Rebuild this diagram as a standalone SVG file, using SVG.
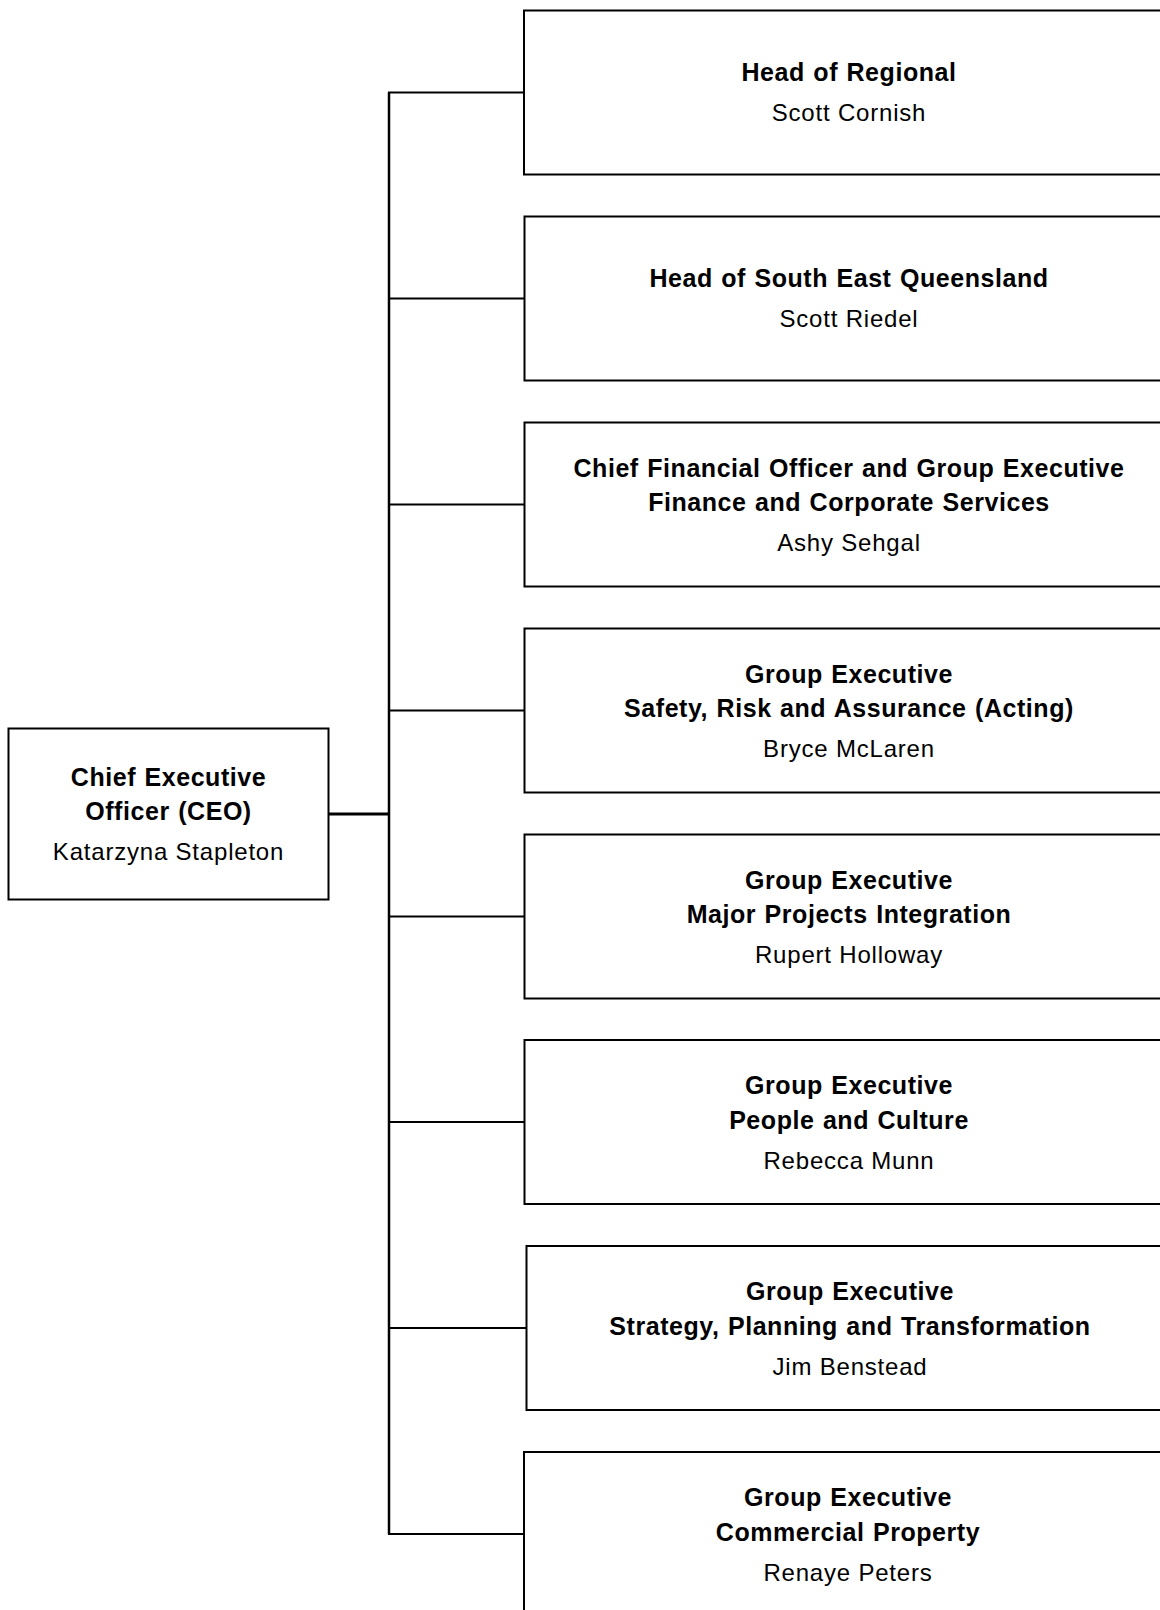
<svg xmlns="http://www.w3.org/2000/svg" width="1160" height="1610" viewBox="0 0 1160 1610">
<style>
  .box { fill: #ffffff; stroke: #000000; stroke-width: 2; }
  .conn { fill: none; stroke: #000000; stroke-width: 2; }
  .t { font-family: "Liberation Sans", Arial, sans-serif; font-weight: bold; font-size: 25px; text-anchor: middle; fill: #000000; letter-spacing: 0.55px; word-spacing: 1px; }
  .n { font-family: "Liberation Sans", Arial, sans-serif; font-size: 24px; text-anchor: middle; fill: #000000; letter-spacing: 0.8px; }
</style>
<rect width="1160" height="1610" fill="#ffffff"/>
<g id="connectors">
  <line class="conn" x1="389" y1="92.5" x2="389" y2="1534" style="stroke-width:2.5"/>
  <line class="conn" x1="328" y1="814" x2="389" y2="814" style="stroke-width:3"/>
  <line class="conn" x1="388" y1="92.5" x2="524" y2="92.5"/>
  <line class="conn" x1="388" y1="298.5" x2="524" y2="298.5"/>
  <line class="conn" x1="388" y1="504.5" x2="524" y2="504.5"/>
  <line class="conn" x1="388" y1="710.5" x2="524" y2="710.5"/>
  <line class="conn" x1="388" y1="916.5" x2="524" y2="916.5"/>
  <line class="conn" x1="388" y1="1122" x2="524" y2="1122"/>
  <line class="conn" x1="388" y1="1328" x2="526" y2="1328"/>
  <line class="conn" x1="388" y1="1534" x2="524" y2="1534"/>
</g>
<g id="ceo">
  <rect class="box" x="8.5" y="728.5" width="320" height="171"/>
  <text class="t" x="168.5" y="786">Chief Executive</text>
  <text class="t" x="168.5" y="820">Officer (CEO)</text>
  <text class="n" x="168.5" y="860">Katarzyna Stapleton</text>
</g>
<g id="head-regional">
  <rect class="box" x="524" y="10.5" width="700" height="164"/>
  <text class="t" x="849" y="80.5">Head of Regional</text>
  <text class="n" x="849" y="121">Scott Cornish</text>
</g>
<g id="head-seq">
  <rect class="box" x="524.5" y="216.5" width="700" height="164"/>
  <text class="t" x="849" y="286.5">Head of South East Queensland</text>
  <text class="n" x="849" y="327">Scott Riedel</text>
</g>
<g id="cfo">
  <rect class="box" x="524.5" y="422.5" width="700" height="164"/>
  <text class="t" x="849" y="476.5">Chief Financial Officer and Group Executive</text>
  <text class="t" x="849" y="511">Finance and Corporate Services</text>
  <text class="n" x="849" y="551">Ashy Sehgal</text>
</g>
<g id="ge-safety">
  <rect class="box" x="524.5" y="628.5" width="700" height="164"/>
  <text class="t" x="849" y="682.5">Group Executive</text>
  <text class="t" x="849" y="717">Safety, Risk and Assurance (Acting)</text>
  <text class="n" x="849" y="757">Bryce McLaren</text>
</g>
<g id="ge-major-projects">
  <rect class="box" x="524.5" y="834.5" width="700" height="164"/>
  <text class="t" x="849" y="888.5">Group Executive</text>
  <text class="t" x="849" y="923">Major Projects Integration</text>
  <text class="n" x="849" y="963">Rupert Holloway</text>
</g>
<g id="ge-people">
  <rect class="box" x="524.5" y="1040" width="700" height="164"/>
  <text class="t" x="849" y="1094">Group Executive</text>
  <text class="t" x="849" y="1128.5">People and Culture</text>
  <text class="n" x="849" y="1168.5">Rebecca Munn</text>
</g>
<g id="ge-strategy">
  <rect class="box" x="526.5" y="1246" width="700" height="164"/>
  <text class="t" x="850" y="1300">Group Executive</text>
  <text class="t" x="850" y="1334.5">Strategy, Planning and Transformation</text>
  <text class="n" x="850" y="1374.5">Jim Benstead</text>
</g>
<g id="ge-commercial">
  <rect class="box" x="524" y="1452" width="700" height="200"/>
  <text class="t" x="848" y="1506">Group Executive</text>
  <text class="t" x="848" y="1540.5">Commercial Property</text>
  <text class="n" x="848" y="1580.5">Renaye Peters</text>
</g>
</svg>
